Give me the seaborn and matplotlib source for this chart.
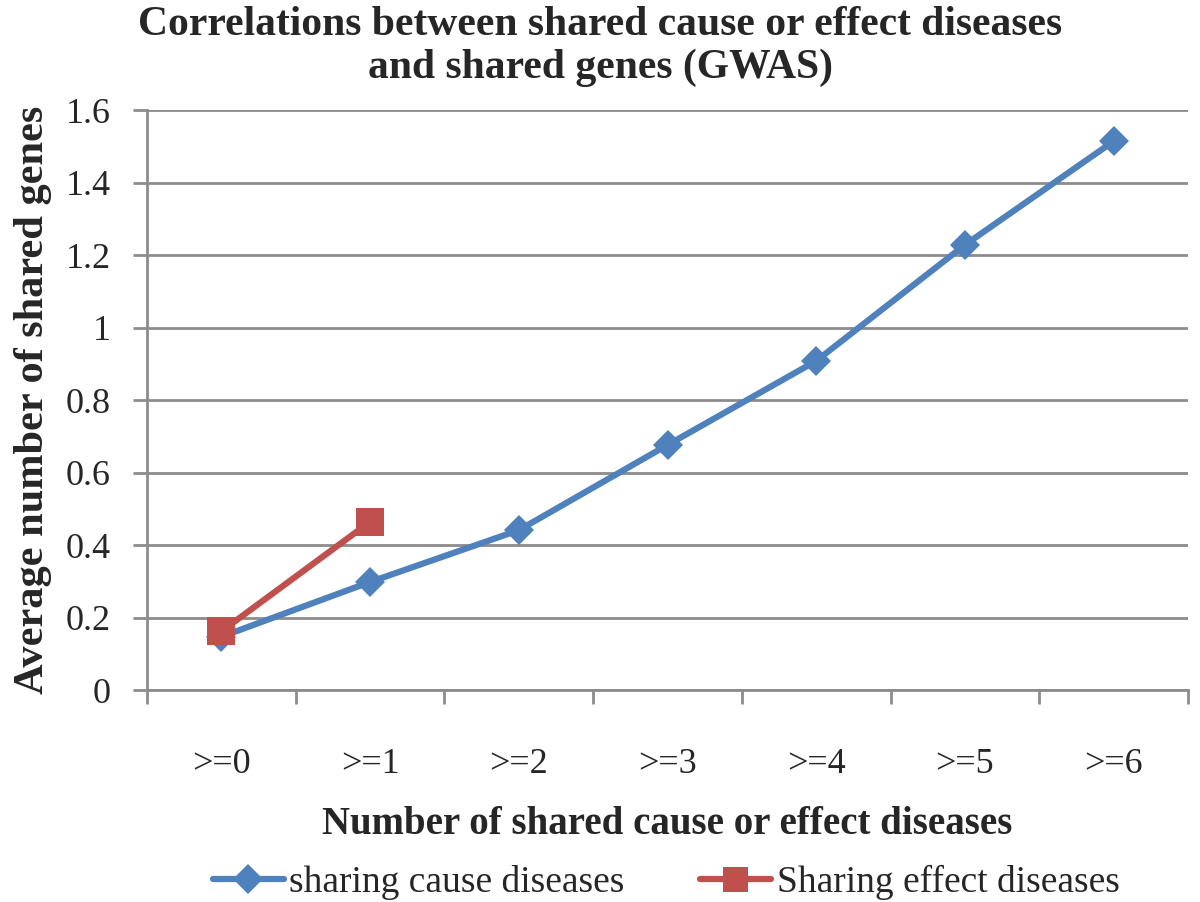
import pandas as pd
import matplotlib
matplotlib.use("Agg")
import matplotlib.pyplot as plt
import seaborn as sns

# Values
categories = [">=0", ">=1", ">=2", ">=3", ">=4", ">=5", ">=6"]
cause_values = [0.147, 0.298, 0.441, 0.676, 0.908, 1.228, 1.514]
effect_categories = [">=0", ">=1"]
effect_values = [0.162, 0.464]
series_names = ["sharing cause diseases", "Sharing effect diseases"]

df = pd.DataFrame({
    "x": list(range(len(cause_values))) + list(range(len(effect_values))),
    "y": cause_values + effect_values,
    "series": [series_names[0]] * len(cause_values) + [series_names[1]] * len(effect_values),
})

sns.set_style("white")
plt.rcParams['font.family'] = ['Liberation Serif', 'DejaVu Serif']

fig = plt.figure(figsize=(12, 9.02), dpi=100)
ax = fig.add_axes([0.1225, 0.235, 0.8675, 0.643])

palette = {series_names[0]: "#4F81BD", series_names[1]: "#C0504D"}
markers = {series_names[0]: "D", series_names[1]: "s"}
sns.lineplot(data=df, x="x", y="y", hue="series", style="series", palette=palette,
             markers=markers, dashes=False, linewidth=4.5, markersize=15,
             markeredgewidth=0, ax=ax, legend=False)
# bigger squares for the effect series
for line in ax.lines:
    if line.get_marker() == "s":
        line.set_markersize(20)

grid_c = "#8c8c8c"
ax.set_ylim(0, 1.6)
ax.set_yticks([i * 0.2 for i in range(9)])
ax.set_yticklabels(["0", "0.2", "0.4", "0.6", "0.8", "1", "1.2", "1.4", "1.6"], fontsize=26)
ax.set_xlim(-0.5, len(categories) - 0.5)
ax.set_xticks(range(len(categories)))
ax.set_xticklabels(categories, fontsize=26)
ax.set_xticks([i - 0.5 for i in range(len(categories) + 1)], minor=True)
ax.tick_params(axis="x", which="major", bottom=False, length=0, pad=42)
ax.tick_params(axis="x", which="minor", bottom=True, length=10, width=2, color=grid_c, direction="out")
ax.tick_params(axis="y", which="major", left=True, length=10, width=2, color=grid_c, direction="out", pad=16)
ax.yaxis.grid(True, color=grid_c, linewidth=2)
ax.set_axisbelow(True)
for s in ["top", "right"]:
    ax.spines[s].set_visible(False)
for s in ["left", "bottom"]:
    ax.spines[s].set_color(grid_c)
    ax.spines[s].set_linewidth(2)

ax.set_xlabel("Number of shared cause or effect diseases", fontsize=28, fontweight="bold", labelpad=18)
ax.set_ylabel("Average number of shared genes", fontsize=30.5, fontweight="bold", labelpad=10)
fig.suptitle("Correlations between shared cause or effect diseases\nand shared genes (GWAS)",
             fontsize=30, fontweight="bold", y=0.993, linespacing=1.15)

handles = [plt.Line2D([], [], color=palette[n], marker=markers[n], linewidth=4.5,
                      markersize=15 if markers[n] == "D" else 18, markeredgewidth=0) for n in series_names]
fig.legend(handles, series_names, loc="lower center", bbox_to_anchor=(0.555, -0.035), ncol=2,
           frameon=False, fontsize=27, handlelength=1.9, handletextpad=0.15, columnspacing=2.0)

fig.savefig("out.png", dpi=100)
